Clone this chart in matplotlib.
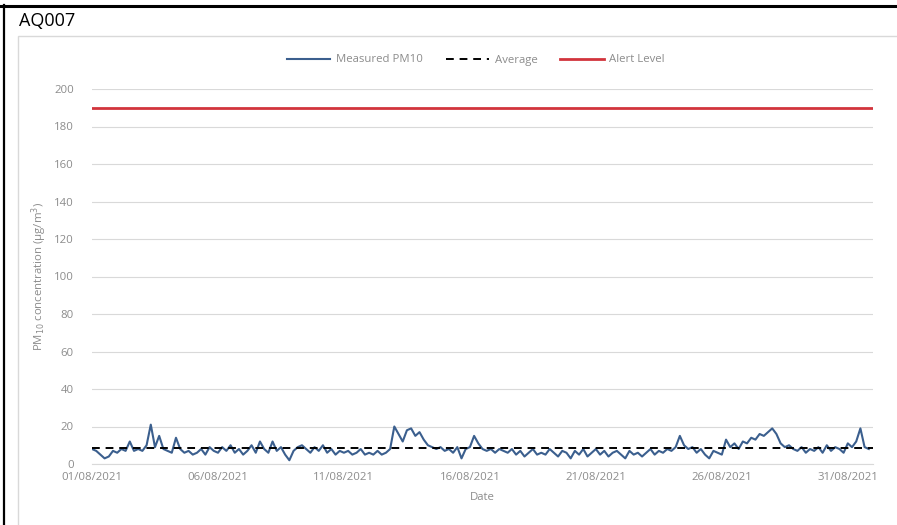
import matplotlib
matplotlib.use("Agg")
import matplotlib.pyplot as plt
import matplotlib.dates as mdates
from matplotlib.patches import Rectangle
from matplotlib.lines import Line2D
import numpy as np
import pandas as pd

# ---- data (4-hourly readings) ----
pm10_by_day = [
    [8, 7, 5, 3, 4, 7],
    [6, 8, 7, 12, 7, 8],
    [7, 10, 21, 9, 15, 8],
    [7, 6, 14, 8, 6, 7],
    [5, 6, 8, 5, 9, 7],
    [6, 9, 7, 10, 6, 8],
    [5, 7, 10, 6, 12, 8],
    [6, 12, 7, 9, 5, 2],
    [7, 9, 10, 8, 6, 9],
    [7, 10, 6, 8, 5, 7],
    [6, 7, 5, 6, 8, 5],
    [6, 5, 7, 5, 6, 8],
    [20, 16, 12, 18, 19, 15],
    [17, 13, 10, 9, 8, 9],
    [7, 8, 6, 9, 3, 8],
    [9, 15, 11, 8, 7, 8],
    [6, 8, 7, 6, 8, 5],
    [7, 4, 6, 8, 5, 6],
    [5, 8, 6, 4, 7, 6],
    [3, 7, 5, 8, 4, 6],
    [8, 5, 7, 4, 6, 7],
    [5, 3, 7, 5, 6, 4],
    [6, 8, 5, 7, 6, 8],
    [7, 9, 15, 10, 8, 9],
    [6, 8, 5, 3, 7, 6],
    [5, 13, 9, 11, 8, 12],
    [11, 14, 13, 16, 15, 17],
    [19, 16, 11, 9, 10, 8],
    [7, 9, 6, 8, 7, 9],
    [6, 10, 7, 9, 8, 6],
    [11, 9, 12, 19, 9, 8],
]
average_level = 8.5
alert_level = 190
y_ticks = [0, 20, 40, 60, 80, 100, 120, 140, 160, 180, 200]
x_tick_dates = ["2021-08-01", "2021-08-06", "2021-08-11", "2021-08-16",
                "2021-08-21", "2021-08-26", "2021-08-31"]
series_labels = ["Measured PM10", "Average", "Alert Level"]
title_text = "AQ007"

values = [v for day in pm10_by_day for v in day]
times = pd.date_range("2021-08-01 00:00", periods=len(values), freq="4h")

W, H = 897, 525
fig = plt.figure(figsize=(W / 100, H / 100), dpi=100)
plt.rcParams['font.family'] = ['Open Sans', 'DejaVu Sans']

# document table frame
fig.add_artist(Line2D([0, 1], [1 - 5.5 / H, 1 - 5.5 / H], color="black", lw=2.2,
                      transform=fig.transFigure))
fig.add_artist(Line2D([3.5 / W, 3.5 / W], [0, 1 - 5 / H], color="black", lw=1.6,
                      transform=fig.transFigure))
# chart area border
fig.add_artist(Rectangle((18 / W, -0.01), 1.0, 1 - 36 / H + 0.01, fill=False,
                         edgecolor="#d9d9d9", lw=1.0, transform=fig.transFigure))
fig.text(19 / W, 1 - 21 / H, title_text, fontsize=13, va="center", ha="left",
         color="black")

ax = fig.add_axes([92 / W, 61 / H, (873 - 92) / W, (464 - 89) / H])
xmin = pd.Timestamp("2021-08-01 00:00")
xmax = pd.Timestamp("2021-09-01 00:00")

ax.plot(times, values, color="#3b5f8e", lw=1.5, label=series_labels[0], zorder=3)
ax.plot([xmin, xmax], [average_level, average_level], color="black", lw=1.4,
        ls=(0, (4, 3)), label=series_labels[1], zorder=4)
ax.plot([xmin, xmax], [alert_level, alert_level], color="#d2343c", lw=2.0,
        label=series_labels[2], zorder=3)

ax.set_xlim(xmin, xmax)
ax.set_ylim(0, 200)
ax.set_yticks(y_ticks)
ax.set_xticks(pd.to_datetime(x_tick_dates))
ax.xaxis.set_major_formatter(mdates.DateFormatter("%d/%m/%Y"))
ax.grid(axis="y", color="#d9d9d9", lw=0.8)
ax.set_axisbelow(True)
for s in ["top", "right", "left"]:
    ax.spines[s].set_visible(False)
ax.spines["bottom"].set_color("#d9d9d9")
ax.tick_params(axis="both", length=0, labelsize=8.2, labelcolor="#8c8c8c")
ax.tick_params(axis="y", pad=13)
ax.tick_params(axis="x", pad=6)

ax.set_xlabel("Date", fontsize=8.2, color="#8c8c8c", labelpad=6)
ax.set_ylabel(r"PM$_{10}$ concentration (µg/m$^3$)", fontsize=8.2,
              color="#8c8c8c", labelpad=4)

leg = fig.legend(loc="center", bbox_to_anchor=(476 / W, 1 - 60 / H), ncol=3,
                 frameon=False, fontsize=8.2, handlelength=3.8,
                 columnspacing=2.0, handletextpad=0.5)
for t in leg.get_texts():
    t.set_color("#8c8c8c")

fig.savefig("out.png", dpi=100)
